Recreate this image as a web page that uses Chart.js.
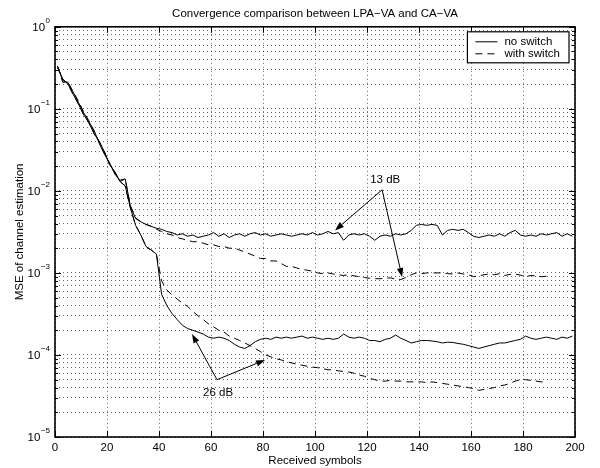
<!DOCTYPE html>
<html><head><meta charset="utf-8">
<script src="https://cdn.jsdelivr.net/npm/chart.js@4"></script>
<style>html,body{margin:0;padding:0;background:#fff}canvas{display:block}</style>
</head><body>
<canvas id="c" width="600" height="468"></canvas>
<script>
// ---- data ----
const symbols = [1,3,5,7,9,11,13,15,17,19,21,23,25,27,29,31,33,35,37,39,
  41,43,45,47,49,51,53,55,57,59,61,63,65,67,69,71,73,75,77,79,
  81,83,85,87,89,91,93,95,97,99,101,103,105,107,109,111,113,115,117,119,
  121,123,125,127,129,131,133,135,137,139,141,143,145,147,149,151,153,155,157,159,
  161,163,165,167,169,171,173,175,177,179,181,183,185,187,189,191,193,195,197,199];

const noSwitch13dB = [0.33,0.22,0.21,0.16,0.12,0.09,0.07,0.055,0.038,0.028,
  0.022,0.016,0.0135,0.014,0.0065,0.0046,0.0042,0.0039,0.0037,0.0035,
  0.0034,0.0032,0.0031,0.0029,0.0030,0.0028,0.0029,0.0027,0.0028,0.0029,
  0.0031,0.0028,0.0030,0.0027,0.0029,0.0030,0.0028,0.0030,0.0031,0.0029,
  0.0030,0.0028,0.0029,0.0030,0.0029,0.0028,0.0029,0.0030,0.0029,0.0031,
  0.0029,0.0030,0.0032,0.0030,0.0031,0.0025,0.0029,0.0030,0.0029,0.0030,
  0.0028,0.0025,0.0028,0.0029,0.0028,0.0030,0.0029,0.0030,0.0033,0.0038,
  0.0039,0.0038,0.0039,0.0038,0.0029,0.0033,0.0034,0.0033,0.0034,0.0031,
  0.0028,0.0027,0.0028,0.0029,0.0028,0.0030,0.0028,0.0031,0.0033,0.0029,
  0.0028,0.0029,0.0028,0.0030,0.0029,0.0030,0.0031,0.0028,0.0030,0.0028];

const withSwitch13dB = [0.33,0.21,0.21,0.16,0.125,0.092,0.072,0.052,0.04,0.029,
  0.021,0.017,0.013,0.014,0.0066,0.0047,0.0042,0.0039,0.0037,0.0034,
  0.0032,0.0030,0.0029,0.0027,0.0026,0.0025,0.0024,0.0024,0.0023,0.0022,
  0.0022,0.0021,0.0021,0.0020,0.0020,0.0019,0.0018,0.0017,0.0016,0.0015,
  0.0015,0.0014,0.0014,0.0013,0.0012,0.0012,0.00115,0.0011,0.00108,0.00105,
  0.0010,0.00098,0.0010,0.00097,0.00095,0.00093,0.00095,0.00092,0.0009,0.00088,
  0.00086,0.00085,0.00085,0.00086,0.00087,0.00084,0.00083,0.00088,0.00095,0.001,
  0.00098,0.001,0.001,0.001,0.001,0.00098,0.00097,0.001,0.00097,0.00095,
  0.0009,0.00092,0.00095,0.00097,0.00095,0.00098,0.00093,0.00096,0.00097,0.00094,
  0.0009,0.00093,0.00092,0.0009,0.00091];

const noSwitch26dB = [0.32,0.23,0.2,0.15,0.115,0.085,0.068,0.05,0.04,0.03,
  0.021,0.017,0.013,0.0115,0.0062,0.0038,0.0029,0.0021,0.0019,0.0017,
  0.00055,0.0004,0.00032,0.00027,0.00023,0.00021,0.0002,0.00019,0.00018,0.000165,
  0.00016,0.000165,0.00016,0.00015,0.000135,0.000125,0.00012,0.00013,0.000145,0.000155,
  0.00016,0.000155,0.000165,0.00016,0.000165,0.00016,0.000165,0.00017,0.00016,0.000165,
  0.00016,0.000155,0.00016,0.000155,0.00016,0.00018,0.000165,0.00016,0.000165,0.00016,
  0.00015,0.00015,0.000145,0.000155,0.00016,0.000175,0.00016,0.00015,0.00014,0.000145,
  0.00015,0.00015,0.000148,0.000145,0.00014,0.000143,0.000142,0.000138,0.000135,0.00013,
  0.000125,0.00012,0.000125,0.00013,0.000135,0.00014,0.00014,0.000145,0.00015,0.000155,
  0.00017,0.00016,0.000155,0.00016,0.000165,0.00016,0.000155,0.000165,0.00016,0.00017];

const withSwitch26dB = [0.32,0.23,0.2,0.15,0.115,0.085,0.068,0.05,0.04,0.03,
  0.021,0.017,0.013,0.0115,0.0062,0.0038,0.0029,0.0021,0.0019,0.0017,
  0.0008,0.00062,0.00054,0.00048,0.00043,0.00039,0.00034,0.0003,0.00027,0.00024,
  0.00022,0.0002,0.00019,0.00017,0.00016,0.00015,0.00014,0.00013,0.00012,0.00011,
  0.0001,0.000095,0.00009,0.000087,0.000083,0.00008,0.000077,0.000075,0.000073,0.000071,
  0.00007,0.000068,0.000066,0.000066,0.000064,0.000063,0.000062,0.00006,0.000057,0.000055,
  0.000052,0.00005,0.000048,0.000048,0.000049,0.000048,0.000048,0.000047,0.000047,0.000047,
  0.000047,0.000046,0.000047,0.000046,0.000045,0.000044,0.000043,0.000042,0.000041,0.00004,
  0.000039,0.000037,0.000038,0.000039,0.00004,0.000042,0.000043,0.000045,0.000048,0.00005,
  0.00005,0.000049,0.000048,0.000047,0.000047];

const legendLabels = ['no switch', 'with switch'];
const xTickValues = [0,20,40,60,80,100,120,140,160,180,200];
const yDecades = [-5,-4,-3,-2,-1,0];

// annotations in data coordinates
const annotations = [
  {text:'13 dB', textAt:[127, 0.0136], from:[125.8, 0.0103], to:[[107.7, 0.0033],[133.5, 0.00089]]},
  {text:'26 dB', textAt:[62.7, 0.000035], from:[62.3, 0.00005], to:[[52.7, 0.00018],[80.8, 0.000087]]}
];

// ---- chart ----
const FONT = '"Liberation Sans", Arial, Helvetica, sans-serif';
const FS = 11.5;
const toPts = (arr) => arr.map((v, i) => ({x: symbols[i], y: v}));

const decorPlugin = {
  id: 'decor',
  afterDraw(chart) {
    const ctx = chart.ctx, ca = chart.chartArea;
    const xs = chart.scales.x, ys = chart.scales.y;
    ctx.save();
    // inward tick marks
    ctx.strokeStyle = '#000'; ctx.lineWidth = 1; ctx.setLineDash([]);
    ctx.beginPath();
    ys.ticks.forEach(t => {
      const e = Math.log10(t.value);
      const major = Math.abs(e - Math.round(e)) < 1e-9;
      const len = major ? 6 : 3;
      const py = Math.round(ys.getPixelForValue(t.value)) + 0.5;
      ctx.moveTo(ca.left, py); ctx.lineTo(ca.left + len, py);
      ctx.moveTo(ca.right, py); ctx.lineTo(ca.right - len, py);
    });
    xs.ticks.forEach(t => {
      const px = Math.round(xs.getPixelForValue(t.value)) + 0.5;
      ctx.moveTo(px, ca.bottom); ctx.lineTo(px, ca.bottom - 6);
      ctx.moveTo(px, ca.top); ctx.lineTo(px, ca.top + 6);
    });
    ctx.stroke();
    // frame
    ctx.lineWidth = 1.6;
    ctx.strokeRect(ca.left, ca.top, ca.right - ca.left, ca.bottom - ca.top);

    // y tick labels: 10 with superscript exponent
    ctx.fillStyle = '#000';
    ctx.textBaseline = 'middle';
    yDecades.forEach(e => {
      const py = ys.getPixelForValue(Math.pow(10, e));
      const expStr = e < 0 ? '\u2212' + (-e) : String(e);
      ctx.font = '8px ' + FONT;
      ctx.textAlign = 'right';
      const ex = ca.left - 5;
      ctx.fillText(expStr, ex, py - 6);
      const ew = ctx.measureText(expStr).width;
      ctx.font = FS + 'px ' + FONT;
      ctx.fillText('10', ex - ew - 0.5, py + 1);
    });

    // annotations
    ctx.font = FS + 'px ' + FONT;
    ctx.fillStyle = '#000';
    ctx.textAlign = 'center'; ctx.textBaseline = 'middle';
    ctx.lineWidth = 1;
    annotations.forEach(a => {
      ctx.fillText(a.text, xs.getPixelForValue(a.textAt[0]), ys.getPixelForValue(a.textAt[1]));
      const fx = xs.getPixelForValue(a.from[0]), fy = ys.getPixelForValue(a.from[1]);
      a.to.forEach(tp => {
        const tx = xs.getPixelForValue(tp[0]), ty = ys.getPixelForValue(tp[1]);
        const ang = Math.atan2(ty - fy, tx - fx);
        const L = 9, W = 3.2;
        const bx = tx - L * Math.cos(ang), by = ty - L * Math.sin(ang);
        ctx.beginPath(); ctx.moveTo(fx, fy); ctx.lineTo(bx, by); ctx.stroke();
        ctx.beginPath();
        ctx.moveTo(tx, ty);
        ctx.lineTo(bx + W * Math.sin(ang), by - W * Math.cos(ang));
        ctx.lineTo(bx - W * Math.sin(ang), by + W * Math.cos(ang));
        ctx.closePath(); ctx.fill();
      });
    });

    // legend
    ctx.textAlign = 'left';
    const tw = Math.max(...legendLabels.map(l => ctx.measureText(l).width));
    const bw = 8 + 22 + 7 + tw + 9, bh = 31;
    const bx0 = ca.right - 6 - bw, by0 = ca.top + 5;
    ctx.fillStyle = '#fff';
    ctx.fillRect(bx0, by0, bw, bh);
    ctx.strokeStyle = '#000'; ctx.lineWidth = 1.2;
    ctx.strokeRect(bx0, by0, bw, bh);
    ctx.lineWidth = 1;
    legendLabels.forEach((lab, i) => {
      const yy = by0 + 10 + i * 12;
      ctx.setLineDash(i === 0 ? [] : [7, 5]);
      ctx.beginPath(); ctx.moveTo(bx0 + 8, yy); ctx.lineTo(bx0 + 30, yy); ctx.stroke();
      ctx.setLineDash([]);
      ctx.fillStyle = '#000';
      ctx.fillText(lab, bx0 + 37, yy);
    });
    ctx.restore();
  }
};

const lineDs = (label, arr, dashed) => ({
  label, data: toPts(arr), borderColor: '#000', backgroundColor: '#000',
  borderWidth: 1, pointRadius: 0, tension: 0, fill: false,
  borderDash: dashed ? [7, 5] : []
});

new Chart(document.getElementById('c'), {
  type: 'line',
  data: {
    datasets: [
      lineDs('no switch (13 dB)', noSwitch13dB, false),
      lineDs('with switch (13 dB)', withSwitch13dB, true),
      lineDs('no switch (26 dB)', noSwitch26dB, false),
      lineDs('with switch (26 dB)', withSwitch26dB, true)
    ]
  },
  options: {
    responsive: false, animation: false, devicePixelRatio: 1,
    layout: {padding: {left: 0, right: 25, top: 0, bottom: 0}},
    plugins: {
      legend: {display: false},
      tooltip: {enabled: false},
      title: {display: true, fullSize: false, text: 'Convergence comparison between LPA\u2212VA and CA\u2212VA',
        color: '#000', font: {family: FONT, size: FS, weight: 'normal'}, padding: {top: 7, bottom: 6}}
    },
    scales: {
      x: {
        type: 'linear', min: 0, max: 200,
        afterBuildTicks: s => { s.ticks = xTickValues.map(v => ({value: v})); },
        ticks: {color: '#000', font: {family: FONT, size: FS}, padding: 4, autoSkip: false, maxRotation: 0},
        grid: {color: 'rgba(0,0,0,0.6)', lineWidth: 1, drawTicks: false},
        border: {display: false, dash: [1, 3]},
        title: {display: true, text: 'Received symbols', color: '#000', font: {family: FONT, size: FS}, padding: {top: 0, bottom: 0}},
        afterFit: s => { s.height = 31; }
      },
      y: {
        type: 'logarithmic', min: 1e-5, max: 1,
        afterBuildTicks: s => {
          const t = [];
          yDecades.forEach(e => {
            if (e === 0) { t.push({value: 1}); return; }
            for (let m = 1; m <= 9; m++) t.push({value: +(m + 'e' + e)});
          });
          s.ticks = t;
        },
        ticks: {display: false, autoSkip: false},
        grid: {color: 'rgba(0,0,0,0.6)', lineWidth: 1, drawTicks: false},
        border: {display: false, dash: [1, 3]},
        title: {display: true, text: 'MSE of channel estimation', color: '#000', font: {family: FONT, size: FS}, padding: {top: 13}},
        afterFit: s => { s.width = 55; }
      }
    }
  },
  plugins: [decorPlugin]
});
</script>
</body></html>
